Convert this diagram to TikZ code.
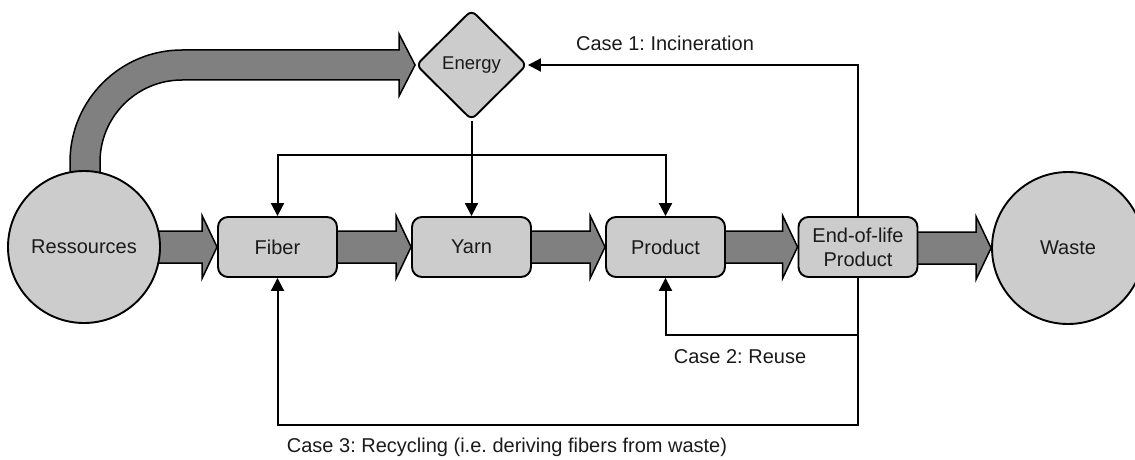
\documentclass[tikz,border=0pt]{standalone}
\usepackage{fontspec}
\setmainfont{Liberation Sans}
\frenchspacing
\usetikzlibrary{arrows.meta,positioning,shapes.geometric,calc,backgrounds}
\definecolor{lcafill}{HTML}{CCCCCC}
\definecolor{lcaflow}{HTML}{808080}
\definecolor{lcatext}{HTML}{1A1A1A}

\begin{document}
\begin{tikzpicture}[x=1pt, y=1pt, >={Triangle[length=13pt,width=13pt]},
  every node/.style={font=\fontsize{20}{24}\selectfont, text=lcatext},
  stage/.style={draw=black, line width=1.9pt, fill=lcafill, rounded corners=10pt,
    minimum width=119pt, minimum height=60pt, inner sep=0pt, align=center},
  pool/.style={draw=black, line width=1.9pt, fill=lcafill, circle,
    minimum size=152pt, inner sep=0pt},
  bigflow/.style={draw=black, line width=1.5pt, fill=lcaflow, line join=miter},
  feed/.style={->, line width=2pt, draw=black}]

\useasboundingbox (0,0) rectangle (1135,459);

%% Stocks
\node[pool] (res) at (84,212) {Ressources};
\node[pool] (waste) at (1068,211) {Waste};

%% Life-cycle stages
\foreach \x/\name/\lab in {277.5/fiber/Fiber, 471.5/yarn/Yarn, 665.5/product/Product}{
  \node[stage] (\name) at (\x,212) {\lab};
}
\node[stage] (eol) at (858,212) {End-of-life\\Product};

%% Energy
\node[diamond, draw=black, line width=1.9pt, fill=lcafill, rounded corners=6pt,
  minimum width=111pt, minimum height=110pt, inner sep=0pt,
  font=\fontsize{18.5}{22}\selectfont] (energy) at (471.5,394) {Energy};

%% Material flows (thick arrows)
\begin{pgfonlayer}{background}
\foreach \a/\b in {res/fiber, fiber/yarn, yarn/product, product/eol, eol/waste}{
  \draw[bigflow] let \p1=(\a.east), \p2=(\b.west) in
    (\x1-6pt,\y2+16pt) -- (\x2-15pt,\y2+16pt) -- (\x2-15pt,\y2+31.5pt) --
    (\x2,\y2) -- (\x2-15pt,\y2-31.5pt) -- (\x2-15pt,\y2-16pt) --
    (\x1-6pt,\y2-16pt) -- cycle;
}
\draw[bigflow] let \p1=(energy.west) in
  (70,270) -- (70,297) arc[start angle=180, end angle=90, radius=112] --
  (\x1-16pt,409pt) -- (\x1-16pt,\y1+31pt) -- (\x1,\y1) --
  (\x1-16pt,\y1-31pt) -- (\x1-16pt,379pt) -- (182,379)
  arc[start angle=90, end angle=180, radius=82] -- (100,270) -- cycle;
\end{pgfonlayer}

%% Energy supply
\coordinate (split) at (471.5,304);
\draw[feed] (energy.south) -- (yarn.north);
\draw[feed] (split) -| (fiber.north);
\draw[feed] (split) -| (product.north);

%% End-of-life cases
\coordinate (reuse) at (858,124);
\coordinate (recycle) at (858,34);
\draw[feed] (eol.north) |- (energy.east);
\draw[feed] (eol.south) -- (recycle) -| (fiber.south);
\draw[feed] (reuse) -| (product.south);

\node (case1) at (665,416) {Case 1: Incineration};
\node (case2) at (740,102) {Case 2: Reuse};
\node (case3) at (507,12) {Case 3: Recycling (i.e. deriving fibers from waste)};

\end{tikzpicture}
\end{document}
